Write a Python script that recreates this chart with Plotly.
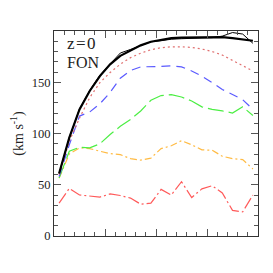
import plotly.graph_objects as go

x = [0.1, 0.3, 0.5, 0.7, 0.9, 1.1, 1.3, 1.5, 1.7, 1.9, 2.1, 2.3, 2.5, 2.7, 2.9, 3.1, 3.3, 3.5, 3.7, 3.9]

total_thick = [61, 96, 123.5, 141.5, 156, 167.5, 175.8, 181, 186, 189.5, 191, 193, 193.5, 193.5, 193.5, 193.8, 194, 193, 192, 190.5]
total_thin = [61, 96, 124, 142, 157, 168, 178.5, 182, 186, 189.5, 190.5, 192, 192.5, 193, 193, 193.5, 195, 198.5, 197, 188]
red_dot = [59.8, 92.5, 115, 135, 149.7, 159.5, 167.6, 174, 178.4, 181.7, 183.7, 184.6, 184.6, 184, 182.4, 180, 176.5, 171.6, 166, 161]
blue_dash = [58, 89, 117, 121, 129, 140, 154, 161.5, 165, 165, 165.4, 166, 165, 161, 156, 149.7, 143, 138, 133, 123.5]
green_ldash = [56.5, 82.7, 86.6, 86, 90, 99, 107, 113.7, 122, 132.4, 137, 138, 135.6, 131.7, 126, 123.5, 122, 120, 126, 117.5]
orange_dd = [56.5, 80, 86, 85.3, 82.7, 80.4, 79.4, 75.5, 74, 76, 85.3, 88, 93, 89, 84, 83.7, 77.8, 75.5, 74.5, 65.4]
red_dd = [32, 46.5, 40, 39, 38, 41, 39.5, 37, 31, 32, 45.5, 40, 53, 37.5, 46, 49, 42, 25, 23.5, 40]

ytickvals = [0, 50, 100, 150]

fig = go.Figure()
fig.add_trace(go.Scatter(x=x, y=red_dd, mode="lines",
                         line=dict(color="#ff5a5a", width=1.2, dash="12px,3px,2px,3px")))
fig.add_trace(go.Scatter(x=x, y=orange_dd, mode="lines",
                         line=dict(color="#ffbb44", width=1.2, dash="7px,3px,2px,3px")))
fig.add_trace(go.Scatter(x=x, y=green_ldash, mode="lines",
                         line=dict(color="#4cee44", width=1.2, dash="16px,5px")))
fig.add_trace(go.Scatter(x=x, y=blue_dash, mode="lines",
                         line=dict(color="#5a5aff", width=1.2, dash="9px,6px")))
fig.add_trace(go.Scatter(x=x, y=red_dot, mode="lines",
                         line=dict(color="#e07070", width=1.2, dash="2px,3px")))
fig.add_trace(go.Scatter(x=x, y=total_thin, mode="lines",
                         line=dict(color="black", width=1)))
fig.add_trace(go.Scatter(x=x, y=total_thick, mode="lines",
                         line=dict(color="black", width=2.2)))

fig.update_layout(
    width=273, height=273,
    margin=dict(l=46, r=23, t=23, b=45),
    paper_bgcolor="white", plot_bgcolor="white",
    showlegend=False,
    font=dict(family="Liberation Serif", size=12, color="#222"),
    xaxis=dict(range=[0, 4], showgrid=False, zeroline=False, automargin=False,
               showline=True, linecolor="#333", linewidth=1, mirror="allticks",
               ticks="inside", ticklen=7, tickcolor="#555", dtick=1, tick0=0,
               showticklabels=False,
               minor=dict(ticks="inside", ticklen=4, dtick=0.2, tickcolor="#555")),
    yaxis=dict(range=[0, 200], showgrid=False, zeroline=False, automargin=False,
               showline=True, linecolor="#333", linewidth=1, mirror="allticks",
               ticks="inside", ticklen=7, tickcolor="#555",
               tickvals=ytickvals, ticktext=[str(v) for v in ytickvals],
               tickfont=dict(family="Liberation Serif", size=12.5, color="#222"),
               minor=dict(ticks="inside", ticklen=4, dtick=10, tickcolor="#555"),
               title=dict(text="(km s<sup>-1</sup>)", standoff=10,
                          font=dict(family="Liberation Serif", size=14, color="#222"))),
    annotations=[
        dict(text="z\u200a=\u200a0", xref="paper", yref="paper", x=0.055, y=0.94,
             xanchor="left", yanchor="middle", showarrow=False,
             font=dict(family="Liberation Serif", size=17, color="#222")),
        dict(text="FON", xref="paper", yref="paper", x=0.055, y=0.845,
             xanchor="left", yanchor="middle", showarrow=False,
             font=dict(family="Liberation Serif", size=16, color="#222")),
    ],
)

fig.write_html("out.html")
